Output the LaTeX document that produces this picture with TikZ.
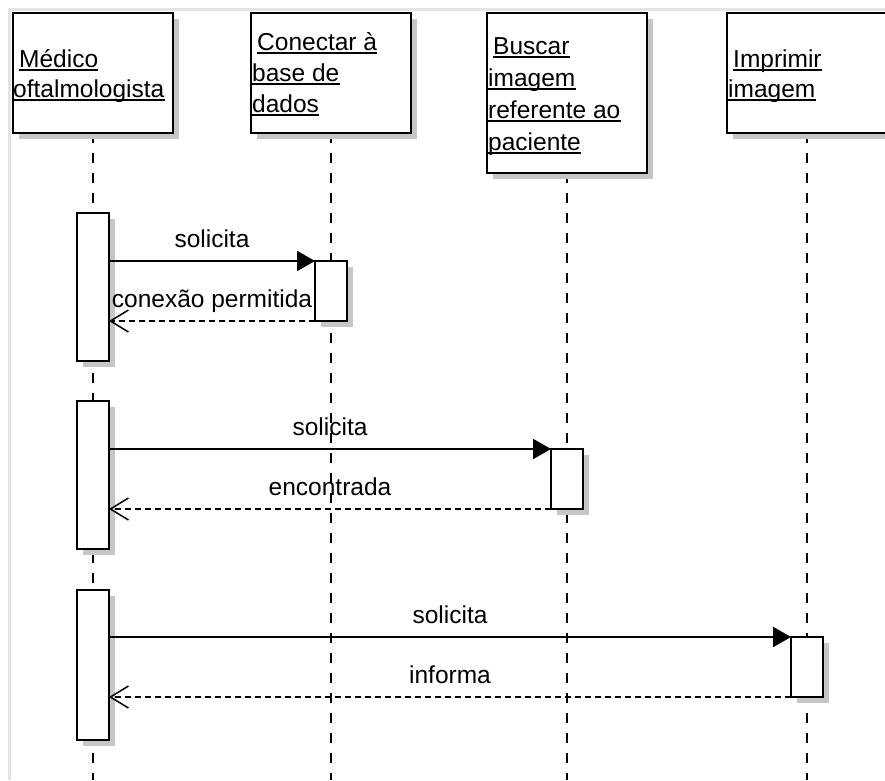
\documentclass[tikz,border=0pt]{standalone}
\usepackage{fontspec}
\setmainfont{Liberation Sans}
\usetikzlibrary{arrows.meta,shadows}

% one underlined line of a participant's title
\newcommand{\headlabel}[3]{%
  \node[headtext] (#1) at (#2) {#3};
  \draw[underl] ([yshift=-3pt]#1.base west) -- ([yshift=-3pt]#1.base east);}

\begin{document}
\begin{tikzpicture}[x=1pt,y=-1pt,
  every node/.style={font=\fontsize{24.5}{30}\selectfont},
  shade box/.style={drop shadow={shadow xshift=6pt,shadow yshift=-6pt,fill=gray!45,opacity=1}},
  headbox/.style={draw=black,line width=2pt,fill=white,inner sep=0pt,outer sep=0pt,
    minimum width=160pt,minimum height=120pt,shade box},
  actbox/.style={draw=black,line width=2pt,fill=white,inner sep=0pt,outer sep=0pt,
    minimum width=32pt,shade box},
  lifeline/.style={line width=2pt,dash pattern=on 10pt off 10pt},
  headtext/.style={inner sep=0pt,anchor=base west},
  underl/.style={line width=1.5pt},
  call/.style={line width=2pt,-{Triangle[length=18pt,width=20pt]}},
  reply/.style={line width=1.5pt,dash pattern=on 6pt off 4pt,
    -{Straight Barb[length=18pt,width=22pt,line width=1.5pt]}},
  msg/.style={midway,anchor=base,yshift=14pt,inner sep=0pt},
  framerule/.style={line width=3pt,draw=gray!22}
]
\clip (0,0) rectangle (885,780);
\fill[white] (0,0) rectangle (885,780);

% window frame
\coordinate (fcorner) at (9,9);
\coordinate (fbottom) at (9,780);
\coordinate (fright) at (885,9);
\draw[framerule] (fbottom) -- (fcorner) -- (fright);

% participants
\node[headbox] (h1) at (93,73) {};
\node[headbox] (h2) at (331,73) {};
\node[headbox,minimum height=160pt] (h3) at (567,93) {};
\node[headbox] (h4) at (807,73) {};

% lifelines
\coordinate (bottom) at (0,780);
\foreach \h in {h1,h2,h3,h4}
  \draw[lifeline] (\h.south) -- (\h.south |- bottom);

% participant boxes again, over the lifelines
\node[headbox] (h1) at (93,73) {};
\node[headbox] (h2) at (331,73) {};
\node[headbox,minimum height=160pt] (h3) at (567,93) {};
\node[headbox] (h4) at (807,73) {};

% titles
\headlabel{t1a}{19,67}{Médico}
\headlabel{t1b}{13,97}{oftalmologista}
\headlabel{t2a}{257,50}{Conectar à}
\headlabel{t2b}{252,81}{base de}
\headlabel{t2c}{252,112}{dados}
\headlabel{t3a}{493,54}{Buscar}
\headlabel{t3b}{488,86}{imagem}
\headlabel{t3c}{488,118}{referente ao}
\headlabel{t3d}{488,150}{paciente}
\headlabel{t4a}{733,67}{Imprimir}
\headlabel{t4b}{728,97}{imagem}

% activations
\node[actbox,minimum height=148pt] (a1) at (93,287) {};
\node[actbox,minimum height=60pt]  (c1) at (331,291) {};
\node[actbox,minimum height=148pt] (a2) at (93,475) {};
\node[actbox,minimum height=60pt]  (b1) at (567,479) {};
\node[actbox,minimum height=150pt] (a3) at (93,665) {};
\node[actbox,minimum height=60pt]  (i1) at (807,667) {};

% messages
\draw[call]  (c1.north west -| a1.east) -- (c1.north west) node[msg] (m1) {solicita};
\draw[reply] (c1.south west) -- (c1.south west -| a1.east) node[msg] (r1) {conexão permitida};
\draw[call]  (b1.north west -| a2.east) -- (b1.north west) node[msg] (m2) {solicita};
\draw[reply] (b1.south west) -- (b1.south west -| a2.east) node[msg] (r2) {encontrada};
\draw[call]  (i1.north west -| a3.east) -- (i1.north west) node[msg] (m3) {solicita};
\draw[reply] (i1.south west) -- (i1.south west -| a3.east) node[msg] (r3) {informa};
\end{tikzpicture}
\end{document}
